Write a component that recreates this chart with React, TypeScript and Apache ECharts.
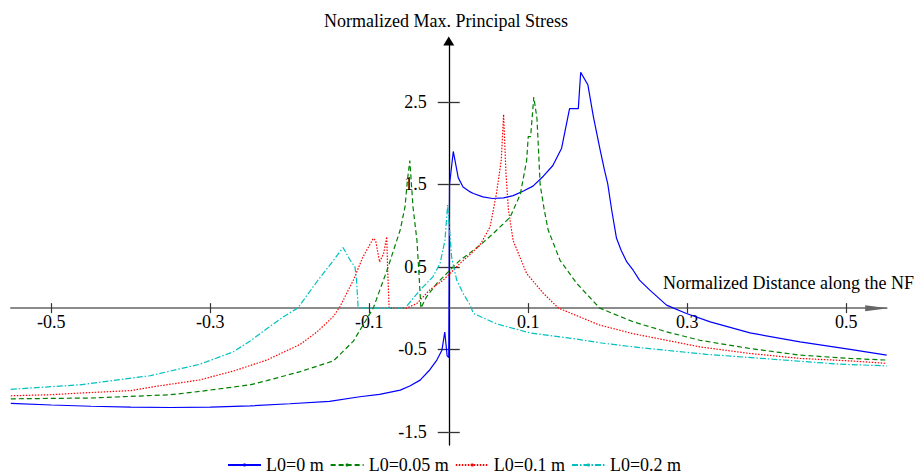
import React, { useEffect, useRef } from "react";
import * as echarts from "echarts";

const seriesNames = ["L0=0 m", "L0=0.05 m", "L0=0.1 m", "L0=0.2 m"];
const xTicks = [-0.5, -0.3, -0.1, 0.1, 0.3, 0.5];
const yTicks = [-1.5, -0.5, 0.5, 1.5, 2.5];
const xTitle = "Normalized Distance along the NF";
const yTitle = "Normalized Max. Principal Stress";

const l0_0: number[][] = [
  [-0.551, -1.155], [-0.5, -1.175], [-0.45, -1.19], [-0.4, -1.2], [-0.35, -1.205], [-0.3, -1.2],
  [-0.25, -1.185], [-0.2, -1.16], [-0.15, -1.13], [-0.112, -1.075], [-0.087, -1.046], [-0.061, -0.994],
  [-0.049, -0.945], [-0.036, -0.873], [-0.024, -0.75], [-0.015, -0.63], [-0.0086, -0.51], [-0.005, -0.29],
  [-0.002, -0.58], [0.0, -0.6], [0.001, 1.5], [0.0057, 1.9], [0.012, 1.58], [0.018, 1.47], [0.027, 1.41],
  [0.031, 1.39], [0.043, 1.35], [0.055, 1.33], [0.069, 1.337], [0.081, 1.365], [0.094, 1.42], [0.106, 1.48],
  [0.119, 1.6], [0.131, 1.73], [0.142, 1.94], [0.152, 2.42], [0.163, 2.42], [0.166, 2.86], [0.175, 2.71],
  [0.182, 2.32], [0.19, 1.94], [0.196, 1.67], [0.2, 1.51], [0.205, 1.19], [0.211, 0.85], [0.217, 0.7],
  [0.224, 0.56], [0.232, 0.46], [0.24, 0.34], [0.253, 0.218], [0.274, 0.036], [0.299, -0.065],
  [0.329, -0.166], [0.379, -0.3], [0.442, -0.41], [0.505, -0.5], [0.551, -0.57],
];

const l0_005: number[][] = [
  [-0.551, -1.1], [-0.5, -1.095], [-0.45, -1.09], [-0.4, -1.07], [-0.35, -1.05], [-0.313, -1.01],
  [-0.25, -0.93], [-0.229, -0.88], [-0.187, -0.77], [-0.145, -0.64], [-0.12, -0.4], [-0.095, 0.0],
  [-0.078, 0.45], [-0.061, 0.95], [-0.055, 1.23], [-0.052, 1.55], [-0.049, 1.79], [-0.045, 1.23],
  [-0.04, 0.82], [-0.037, 0.34], [-0.035, 0.0], [-0.028, 0.137], [-0.015, 0.3], [0.0015, 0.46],
  [0.014, 0.58], [0.039, 0.76], [0.056, 0.905], [0.077, 1.1], [0.09, 1.38], [0.098, 1.79], [0.1, 2.08],
  [0.103, 2.08], [0.107, 2.56], [0.111, 2.3], [0.115, 1.5], [0.12, 1.2], [0.125, 0.95], [0.14, 0.58],
  [0.161, 0.3], [0.19, 0.0], [0.232, -0.166], [0.274, -0.287], [0.316, -0.39], [0.379, -0.49],
  [0.442, -0.57], [0.505, -0.61], [0.551, -0.63],
];

const l0_01: number[][] = [
  [-0.551, -1.063], [-0.5, -1.05], [-0.464, -1.03], [-0.4, -1.0], [-0.376, -0.96], [-0.313, -0.87],
  [-0.27, -0.76], [-0.229, -0.63], [-0.187, -0.44], [-0.166, -0.29], [-0.145, -0.1], [-0.137, 0.016],
  [-0.12, 0.34], [-0.108, 0.62], [-0.095, 0.845], [-0.092, 0.82], [-0.087, 0.56], [-0.082, 0.66],
  [-0.078, 0.865], [-0.077, 0.5], [-0.075, 0.0], [-0.053, 0.0], [-0.04, 0.057], [-0.024, 0.22],
  [-0.007, 0.34], [0.0057, 0.46], [0.014, 0.54], [0.039, 0.76], [0.052, 0.985], [0.06, 1.39],
  [0.066, 1.79], [0.069, 2.35], [0.072, 1.63], [0.075, 1.2], [0.081, 0.82], [0.098, 0.42],
  [0.119, 0.18], [0.138, 0.0], [0.19, -0.206], [0.232, -0.31], [0.274, -0.39], [0.316, -0.47],
  [0.379, -0.55], [0.442, -0.61], [0.505, -0.64], [0.551, -0.67],
];

const l0_02: number[][] = [
  [-0.551, -0.985], [-0.464, -0.93], [-0.44, -0.9], [-0.376, -0.82], [-0.313, -0.68], [-0.271, -0.53],
  [-0.25, -0.4], [-0.229, -0.25], [-0.208, -0.105], [-0.19, 0.0], [-0.166, 0.32], [-0.145, 0.58],
  [-0.133, 0.735], [-0.124, 0.58], [-0.118, 0.5], [-0.116, 0.34], [-0.114, 0.0], [-0.055, 0.0],
  [-0.036, 0.22], [-0.02, 0.38], [-0.011, 0.54], [-0.0048, 0.82], [-0.0026, 1.1], [-0.0014, 1.25],
  [0.0036, 0.62], [0.01, 0.34], [0.018, 0.18], [0.027, 0.036], [0.031, -0.064], [0.06, -0.19],
  [0.102, -0.3], [0.157, -0.37], [0.19, -0.42], [0.241, -0.48], [0.324, -0.56], [0.408, -0.62],
  [0.492, -0.68], [0.551, -0.7],
];

const seriesData = [l0_0, l0_005, l0_01, l0_02];
const colors = ["#0000ff", "#008000", "#ff0000", "#00c0c0"];
const lineTypes: any[] = ["solid", [5, 3], [1.5, 1.5], [6, 2, 1.5, 2]];

const FONT = "'Liberation Serif', 'Times New Roman', serif";

export default function App() {
  const ref = useRef<HTMLDivElement>(null);
  useEffect(() => {
    document.body.style.margin = "0";
    const chart = echarts.init(ref.current!, null, { renderer: "svg" });
    const xMin = -0.551, xMax = 0.551, yMin = -1.66, yMax = 3.24;
    const L = 10.8, R = 34.3, T = 41, B = 31;
    const W = 921 - L - R, H = 476 - T - B;
    const zeroX = L + ((0 - xMin) / (xMax - xMin)) * W;
    const zeroY = T + ((yMax - 0) / (yMax - yMin)) * H;
    const tickStyle = { color: "#333", width: 1.2 };
    const hiddenX = (gridIndex: number, min: number, max: number) => ({
      type: "value", gridIndex, min, max, show: false,
    });
    const hiddenY = (gridIndex: number, min: number, max: number) => ({
      type: "value", gridIndex, min, max, show: false,
    });
    chart.setOption({
      animation: false,
      grid: [
        { left: L, right: R, top: T, bottom: B, outerBoundsMode: "none", containLabel: false },
        { left: L, right: R, top: T, bottom: 476 - zeroY, outerBoundsMode: "none", containLabel: false },
        { left: zeroX, right: R, top: T, bottom: B, outerBoundsMode: "none", containLabel: false },
      ],
      xAxis: [
        hiddenX(0, xMin, xMax),
        {
          type: "value", gridIndex: 1, min: xMin, max: xMax, position: "bottom", splitLine: { show: false },
          axisLine: {
            show: true, onZero: false, symbol: ["none", "triangle"], symbolSize: [6, 23], symbolOffset: [0, -10],
            lineStyle: { color: "#666", width: 1.6 },
          },
          axisTick: { show: true, length: 5, customValues: xTicks, lineStyle: tickStyle },
          axisLabel: {
            show: true, customValues: xTicks, margin: 5, color: "#000", fontFamily: FONT, fontSize: 18,
            formatter: (v: number) => String(v),
          },
        },
        {
          type: "value", gridIndex: 1, min: xMin, max: xMax, position: "bottom", splitLine: { show: false },
          axisLine: { show: false, onZero: false },
          axisTick: { show: true, inside: true, length: 5, customValues: xTicks, lineStyle: tickStyle },
          axisLabel: { show: false },
        },
        hiddenX(2, 0, 1),
      ],
      yAxis: [
        hiddenY(0, yMin, yMax),
        hiddenY(1, 0, 1),
        {
          type: "value", gridIndex: 2, min: yMin, max: yMax, position: "left", splitLine: { show: false },
          axisLine: {
            show: true, onZero: false, symbol: ["none", "triangle"], symbolSize: [11, 9], symbolOffset: [0, 0],
            lineStyle: { color: "#000", width: 1.3 },
          },
          axisTick: { show: true, length: 11, customValues: yTicks, lineStyle: { color: "#333", width: 1.3 } },
          axisLabel: {
            show: true, customValues: yTicks, margin: 22, color: "#000", fontFamily: FONT, fontSize: 18,
            formatter: (v: number) => String(v),
          },
        },
        {
          type: "value", gridIndex: 2, min: yMin, max: yMax, position: "left", splitLine: { show: false },
          axisLine: { show: false, onZero: false },
          axisTick: { show: true, inside: true, length: 11, customValues: yTicks, lineStyle: { color: "#333", width: 1.3 } },
          axisLabel: { show: false },
        },
      ],
      legend: {
        left: 227, top: 456, padding: 0, itemWidth: 33, itemHeight: 4, itemGap: 6,
        textStyle: { fontFamily: FONT, fontSize: 18, color: "#000" },
        data: seriesNames,
      },
      graphic: [
        {
          type: "text", x: 446, y: 21, style: {
            text: yTitle, fontFamily: FONT, fontSize: 18, fill: "#000", align: "center", verticalAlign: "middle",
          },
        },
        {
          type: "text", x: 914, y: 283, style: {
            text: xTitle, fontFamily: FONT, fontSize: 18, fill: "#000", align: "right", verticalAlign: "middle",
          },
        },
      ],
      series: seriesNames.map((name, i) => ({
        name, type: "line", xAxisIndex: 0, yAxisIndex: 0,
        data: seriesData[i], showSymbol: false, symbol: "circle", symbolSize: 3,
        color: colors[i],
        lineStyle: { color: colors[i], width: 1.2, type: lineTypes[i] },
        itemStyle: { color: colors[i] },
        clip: false, z: 3,
      })),
    });
    return () => chart.dispose();
  }, []);
  return <div ref={ref} style={{ width: 921, height: 476 }} />;
}
